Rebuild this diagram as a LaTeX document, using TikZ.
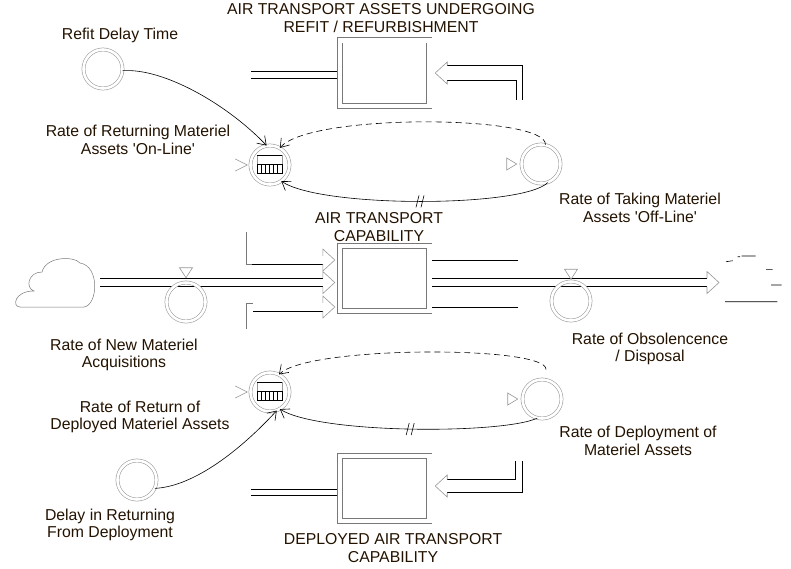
\documentclass[tikz,border=0pt]{standalone}
\usepackage{fontspec}
\setmainfont{Liberation Sans}
\usepackage{xcolor}
\usetikzlibrary{arrows.meta,positioning,calc,backgrounds}
\definecolor{sdgray}{RGB}{120,120,120}
\definecolor{sdlight}{RGB}{150,150,150}
\definecolor{sdtext}{RGB}{35,18,0}
\tikzset{
  stock/.style={rectangle, draw=sdgray, double=white, double distance=4.4pt, line width=0.8pt, minimum width=89.6pt, minimum height=65.4pt, inner sep=0pt},
  valve/.style={circle, draw=sdlight, double=white, double distance=2.6pt, line width=0.55pt, minimum size=39pt, inner sep=0pt},
  pipe/.style={draw=black, double=white, double distance=7.6pt, line width=0.7pt},
  thinpipe/.style={pipe, double distance=5.8pt},
  pipeline/.style={draw=black, line width=0.7pt},
  edgeline/.style={draw=sdgray, line width=0.6pt},
  headline/.style={draw=sdlight, line width=0.6pt},
  markline/.style={draw=sdlight, line width=0.6pt},
  link/.style={-{Straight Barb[length=8pt, width=11pt]}, black, line width=0.6pt},
  dashlink/.style={link, dash pattern=on 6pt off 4pt},
  sdlabel/.style={align=center, font=\fontsize{15.8}{17.8}\selectfont, text=sdtext, inner sep=0pt},
  pics/flowhead/.style={code={\draw[headline] (-12,-#1) -- (-12,-11) -- (0,0) -- (-12,11) -- (-12,#1);}},
  pics/flowhead/.default=4.2,
  pics/chevron/.style={code={\draw[markline] (-12,-6) -- (0,0) -- (-12,6);}},
  pics/sidetri/.style={code={\draw[markline] (-10,-6) -- (0,0) -- (-10,6) -- cycle;}},
  pics/toptri/.style={code={\draw[markline] (-6.5,-10) -- (0,0) -- (6.5,-10) -- cycle;}},
  pics/gridmark/.style={code={
    \draw[markline] (-13,-1) rectangle (12,-10);
    \draw[black, line width=0.8pt] (-13,-10) -- (12,-10);
    \draw[black, line width=0.8pt] (-13,-1) rectangle (12,8);
    \foreach \gx in {-8.8,-4.7,-0.5,3.7,7.8}
      \draw[black, line width=0.8pt] (\gx,-1) -- (\gx,8);
  }},
  pics/delaymark/.style={code={
    \draw[black, line width=0.6pt] (-4.2,6) -- (-1.2,-6);
    \draw[black, line width=0.6pt] (0.8,6) -- (3.8,-6);
  }}
}

\begin{document}
\begin{tikzpicture}[x=1pt, y=-1pt]
\useasboundingbox (0,0) rectangle (791,568);
% stocks
\node[stock] (stockTop) at (384.5,73) {};
\node[stock] (stockMain) at (384.5,278.5) {};
\node[stock] (stockDep) at (384.5,488.5) {};
% rates and delays
\node[valve] (retOn) at (270,165) {};
\node[valve] (takeOff) at (541,164) {};
\node[valve] (newAcq) at (186,302) {};
\node[valve] (obsolete) at (571,301) {};
\node[valve] (retDep) at (270,392) {};
\node[valve] (deploy) at (542,399) {};
\node[valve] (refitDelay) at (103,69) {};
\node[valve] (returnDelay) at (137,480) {};
\pic at (retOn) {gridmark};
\pic at (retDep) {gridmark};
\pic at ([xshift=-3pt]retOn.west) {chevron};
\pic at ([xshift=-3pt]retDep.west) {chevron};
\pic at ([xshift=-4.5pt]takeOff.west) {sidetri};
\pic at ([xshift=-4.5pt]deploy.west) {sidetri};
\pic at ([yshift=4.5pt]newAcq.north) {toptri};
\pic at ([yshift=2pt]obsolete.north) {toptri};

% pipes
\coordinate (source) at (100,282.5);
\coordinate (sinkHead) at (719,282.5);
\coordinate (topOutL) at (251,75);
\coordinate (topInR) at (519,100);
\coordinate (mainInU) at (252,260);
\coordinate (mainInL) at (253,307);
\coordinate (mainEdgeU) at (246,232);
\coordinate (mainEdgeL) at (246,329);
\coordinate (mainOutU) at (518,256);
\coordinate (mainOutL) at (518,303);
\coordinate (depOutL) at (251,492.5);
\coordinate (depInR) at (518.5,461);
\coordinate (topHead) at ($(stockTop.east)+(5.5,0)$);
\coordinate (depHead) at ($(stockDep.east)+(5.5,-2.5)$);
\coordinate (mainHeadM) at ($(stockMain.west |- source)+(-4.5,0)$);
\coordinate (mainHeadU) at ($(stockMain.west |- mainInU)+(-4.5,0)$);
\coordinate (mainHeadL) at ($(stockMain.west |- mainInL)+(-4.5,0)$);
\begin{pgfonlayer}{background}
\draw[thinpipe] (topOutL) -- (topOutL -| stockTop.west);
\draw[pipe] (source) -- ([xshift=-12pt]mainHeadM);
\draw[pipe] (mainInU) -- ([xshift=-12pt]mainHeadU);
\draw[pipe] (mainInL) -- ([xshift=-12pt]mainHeadL);
\draw[edgeline] (mainEdgeU) |- ([yshift=-4.2pt]mainInU);
\draw[edgeline] (mainEdgeL) |- ([yshift=4.2pt]mainInL);
\draw[pipe] (stockMain.east |- mainOutU) -- (mainOutU);
\draw[pipe] (stockMain.east |- mainOutL) -- (mainOutL);
\draw[pipe] (stockMain.east |- source) -- ([xshift=-12pt]sinkHead);
\draw[thinpipe] (depOutL) -- (depOutL -| stockDep.west);
\end{pgfonlayer}
\draw[pipeline] ([xshift=3pt]topInR) |- ([xshift=12pt, yshift=7.5pt]topHead);
\draw[pipeline] ([xshift=-3pt]topInR) |- ([xshift=12pt, yshift=-7.5pt]topHead);
\draw[pipeline] ([xshift=3.5pt]depInR) |- ([xshift=12pt, yshift=-6.5pt]depHead);
\draw[pipeline] ([xshift=-3.5pt]depInR) |- ([xshift=12pt, yshift=6.5pt]depHead);
\pic[rotate=180] at (topHead) {flowhead=7.5};
\pic[rotate=180] at (depHead) {flowhead=6.5};
\pic at (mainHeadM) {flowhead};
\pic at (mainHeadU) {flowhead};
\pic at (mainHeadL) {flowhead};
\pic at (sinkHead) {flowhead};

% source cloud and sink
\draw[edgeline, line width=0.5pt] (20,307) -- (84,307)
  .. controls (98,305) and (100,266) .. (80,263)
  .. controls (74,256) and (46,256) .. (42,272)
  .. controls (28,272) and (25,288) .. (34,291)
  .. controls (14,291) and (12,307) .. (20,307) -- cycle;
\draw[black, line width=0.6pt] (726,261.7) -- (732.7,260.7) (737.7,256.7) -- (740,256.7) (741.7,256) -- (755.7,256) (766,269.3) -- (772.7,269.3) (771,285) -- (781.7,285) (725,301.7) -- (777.3,301.7);

% links
\draw[link] (refitDelay.-5) .. controls +(40,-3) and +(-40,-42) .. (retOn.100);
\draw[dashlink] (takeOff.77) .. controls +(2,-30) and +(30,-35) .. (retOn.60);
\draw[link] (takeOff.-70) .. controls +(-25,25) and +(40,27) .. (retOn.-55) coordinate[pos=0.5] (delayTop);
\draw[dashlink, shorten <=10pt] (deploy.81) .. controls +(3,-34) and +(30,-29) .. (retDep.63);
\draw[link] (deploy.-104) .. controls +(-35,16) and +(40,25) .. (retDep.-60) coordinate[pos=0.5] (delayDep);
\draw[link] (returnDelay.-25) .. controls +(40,-2) and +(-35,38) .. (retDep.-70);
\pic at (delayTop) {delaymark};
\pic at (delayDep) {delaymark};

% labels
\node[sdlabel] (lblTopStock) at (381,18) {AIR TRANSPORT ASSETS UNDERGOING\\REFIT / REFURBISHMENT};
\node[sdlabel] (lblRefit) at (120,35) {Refit Delay Time};
\node[sdlabel] (lblRetOn) at (138,140) {Rate of Returning Materiel\\Assets \textquotesingle On-Line\textquotesingle};
\node[sdlabel] (lblTakeOff) at (640,208) {Rate of Taking Materiel\\Assets \textquotesingle Off-Line\textquotesingle};
\node[sdlabel] (lblMain) at (379,227) {AIR TRANSPORT\\CAPABILITY};
\node[sdlabel] (lblNewAcq) at (124,355) {Rate of New Materiel\\Acquisitions};
\node[sdlabel] (lblObsolete) at (650,349) {Rate of Obsolencence\\/ Disposal};
\node[sdlabel] (lblRetDep) at (140,417) {Rate of Return of\\Deployed Materiel Assets};
\node[sdlabel] (lblDeploy) at (638,441) {Rate of Deployment of\\Materiel Assets};
\node[sdlabel] (lblRetDelay) at (110,525) {Delay in Returning\\From Deployment};
\node[sdlabel] (lblDepStock) at (393,548) {DEPLOYED AIR TRANSPORT\\CAPABILITY};
\end{tikzpicture}
\end{document}
